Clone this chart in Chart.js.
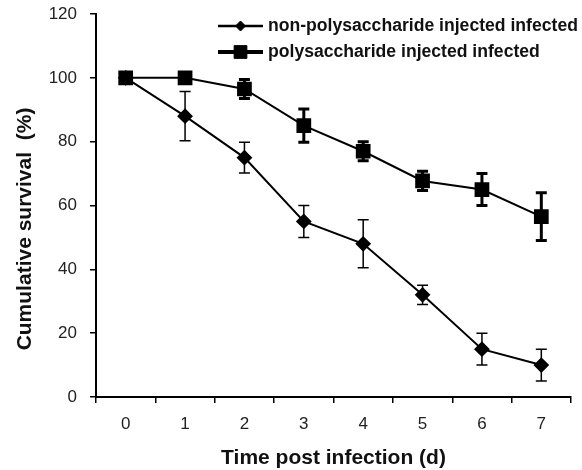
<!DOCTYPE html>
<html lang="en">
<head>
<meta charset="UTF-8">
<title>Cumulative survival</title>
<script src="https://cdn.jsdelivr.net/npm/chart.js@4/dist/chart.umd.min.js"></script>
<style>
    html, body { margin: 0; padding: 0; background: #fff; }
    #wrap { width: 582px; height: 470px; }
</style>
</head>
<body>
<div id="wrap"><canvas id="chart" width="582" height="470"></canvas></div>
<script>
// data
const days = ['0', '1', '2', '3', '4', '5', '6', '7'];
const nonPoly = [100, 88, 75, 55, 48, 32, 15, 10];
const nonPolyErr = [0, 7.7, 4.8, 5, 7.5, 3, 5, 5];
const poly = [100, 100, 96.5, 85, 77, 67.7, 65, 56.5];
const polyErr = [0, 0, 3, 5.2, 3, 3, 5, 7.5];
const yTicks = [0, 20, 40, 60, 80, 100, 120];
const seriesNames = ['non-polysaccharide injected infected', 'polysaccharide injected infected'];

const FONT = "'Liberation Sans', Arial, sans-serif";
Chart.defaults.font.family = FONT;

// error bars, drawn under the lines and markers
const errorBars = {
    id: 'errorBars',
    beforeDatasetsDraw(chart) {
        const ctx = chart.ctx;
        const y = chart.scales.y;
        chart.data.datasets.forEach((ds, i) => {
            const meta = chart.getDatasetMeta(i);
            ctx.save();
            ctx.strokeStyle = '#000';
            ctx.lineWidth = ds.errWidth;
            meta.data.forEach((pt, j) => {
                const e = ds.errors[j];
                if (!e) return;
                const top = y.getPixelForValue(ds.data[j] + e);
                const bot = y.getPixelForValue(ds.data[j] - e);
                const cap = 5.5;
                ctx.beginPath();
                ctx.moveTo(pt.x, top); ctx.lineTo(pt.x, bot);
                ctx.moveTo(pt.x - cap, top); ctx.lineTo(pt.x + cap, top);
                ctx.moveTo(pt.x - cap, bot); ctx.lineTo(pt.x + cap, bot);
                ctx.stroke();
            });
            ctx.restore();
        });
    }
};

// legend in the top right + rotated y title
const extras = {
    id: 'extras',
    afterDraw(chart) {
        const ctx = chart.ctx;
        const rows = [
            { y: 26, lw: 2.5, style: 'rectRot', r: 5 },
            { y: 52, lw: 4, style: 'rect', r: 9 }
        ];
        rows.forEach((row, i) => {
            ctx.save();
            ctx.strokeStyle = '#000';
            ctx.fillStyle = '#000';
            ctx.lineWidth = row.lw;
            ctx.beginPath();
            ctx.moveTo(218, row.y); ctx.lineTo(263, row.y);
            ctx.stroke();
            ctx.lineWidth = 1;
            Chart.helpers.drawPoint(ctx, { pointStyle: row.style, radius: row.r, rotation: 0, borderWidth: 1 }, 240.5, row.y);
            ctx.fillStyle = '#111';
            ctx.font = 'bold 17.6px ' + FONT;
            ctx.textAlign = 'left';
            ctx.textBaseline = 'middle';
            ctx.fillText(seriesNames[i], 268, row.y);
            ctx.restore();
        });

        ctx.save();
        ctx.translate(25, 229);
        ctx.rotate(-Math.PI / 2);
        ctx.fillStyle = '#111';
        ctx.font = 'bold 21px ' + FONT;
        ctx.textAlign = 'center';
        ctx.textBaseline = 'middle';
        ctx.fillText('Cumulative survival  (%)', 0, 0);
        ctx.restore();
    }
};

new Chart(document.getElementById('chart'), {
    type: 'line',
    data: {
        labels: days,
        datasets: [
            {
                label: seriesNames[0],
                data: nonPoly,
                errors: nonPolyErr,
                errWidth: 1.5,
                borderColor: '#000',
                borderWidth: 2,
                pointStyle: 'rectRot',
                pointRadius: 6.5,
                pointBackgroundColor: '#000',
                pointBorderColor: '#000',
                tension: 0
            },
            {
                label: seriesNames[1],
                data: poly,
                errors: polyErr,
                errWidth: 3,
                borderColor: '#000',
                borderWidth: 2,
                pointStyle: 'rect',
                pointRadius: 9,
                pointBackgroundColor: '#000',
                pointBorderColor: '#000',
                tension: 0
            }
        ]
    },
    options: {
        responsive: false,
        animation: false,
        layout: { padding: { top: 14, right: 8, left: 0, bottom: 0 } },
        plugins: { legend: { display: false }, tooltip: { enabled: false } },
        scales: {
            x: {
                offset: true,
                grid: { offset: true, drawOnChartArea: false, color: '#000', tickLength: 6, lineWidth: 1.5 },
                border: { color: '#000', width: 2 },
                ticks: { color: '#222', font: { size: 17 }, padding: 11 },
                title: {
                    display: true,
                    text: 'Time post infection (d)',
                    color: '#111',
                    font: { size: 21, weight: 'bold', lineHeight: 1 },
                    padding: { top: 0, bottom: 1 }
                },
                afterFit: s => { s.height = 73; }
            },
            y: {
                min: 0,
                max: 120,
                afterBuildTicks: s => { s.ticks = yTicks.map(v => ({ value: v })); },
                grid: { drawOnChartArea: false, color: '#000', tickLength: 6, lineWidth: 1.5 },
                border: { color: '#000', width: 2 },
                ticks: { color: '#222', font: { size: 17 }, padding: 13 },
                afterFit: s => { s.width = 96; s.paddingTop = 0; s.paddingBottom = 0; }
            }
        }
    },
    plugins: [errorBars, extras]
});
</script>
</body>
</html>
